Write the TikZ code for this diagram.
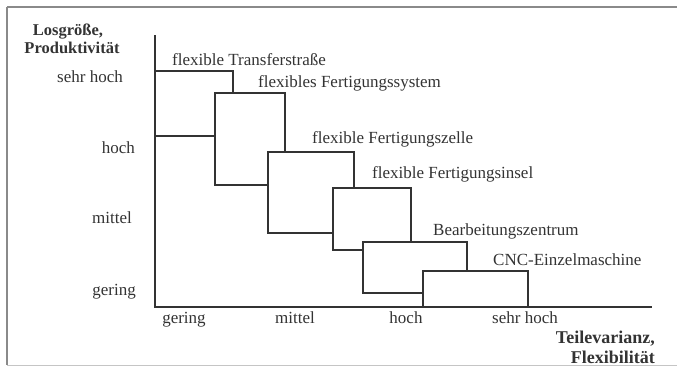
\documentclass[tikz,border=0pt]{standalone}
\usepackage{fontspec}
\setmainfont{Liberation Serif}
\usepackage{tikz}
\definecolor{inkgray}{HTML}{333333}
\definecolor{framegray}{HTML}{8A8A8A}
\tikzset{
  box/.style={draw=inkgray,fill=white,line width=1.4pt},
  axis/.style={draw=inkgray,line width=1.4pt},
  lbl/.style={inner sep=0pt,text=inkgray,font=\fontsize{17}{20}\selectfont},
  ttl/.style={lbl,font=\fontsize{16.5}{19.5}\selectfont\bfseries},
  bigttl/.style={lbl,font=\fontsize{18}{21}\selectfont\bfseries}
}

\begin{document}
\begin{tikzpicture}[x=1pt,y=-1pt]
                \useasboundingbox (0,0) rectangle (677,368);
                \draw[framegray,line width=1.2pt] (7,7) -- (677,7);
                \draw[framegray,line width=1.2pt] (7,7) -- (7,365);
                \draw[framegray!50,line width=0.8pt] (7,365) -- (677,365);
                \draw[box] (155,71) rectangle (233,136);
                \draw[box] (215,93) rectangle (285,185);
                \draw[box] (268,152) rectangle (354,233);
                \draw[box] (333,188) rectangle (411,250);
                \draw[box] (363,242) rectangle (467,293);
                \draw[box] (423,271) rectangle (528,307);
                \coordinate (origin) at (155,307);
                \coordinate (ytop) at (155,35);
                \coordinate (xend) at (652,307);
                \draw[axis] (ytop) -- (origin) -- (xend);
                \node[lbl,anchor=base west] (transfer) at (172,65) {flexible Transferstraße};
                \node[lbl,anchor=base west] (fsystem) at (258,87) {flexibles Fertigungssystem};
                \node[lbl,anchor=base west] (fzelle) at (312,143) {flexible Fertigungszelle};
                \node[lbl,anchor=base west] (finsel) at (372,178) {flexible Fertigungsinsel};
                \node[lbl,anchor=base west] (bazentrum) at (433,235) {Bearbeitungszentrum};
                \node[lbl,anchor=base west] (cnc) at (493,265) {CNC-Einzelmaschine};
                \node[lbl,anchor=base east] (ysehrhoch) at (123,82) {sehr hoch};
                \node[lbl,anchor=base east] (yhoch) at (135,153) {hoch};
                \node[lbl,anchor=base east] (ymittel) at (132,223) {mittel};
                \node[lbl,anchor=base east] (ygering) at (136,295) {gering};
                \node[lbl,anchor=base] (xgering) at (184,323) {gering};
                \node[lbl,anchor=base] (xmittel) at (295,323) {mittel};
                \node[lbl,anchor=base] (xhoch) at (406,323) {hoch};
                \node[lbl,anchor=base] (xsehrhoch) at (525,323) {sehr hoch};
                \node[ttl,anchor=base] (ytitle1) at (68,35) {Losgröße,};
                \node[ttl,anchor=base] (ytitle2) at (72,53) {Produktivität};
                \node[bigttl,anchor=base east] (xtitle1) at (655,343) {Teilevarianz,};
                \node[bigttl,anchor=base east] (xtitle2) at (655,363) {Flexibilität};
\end{tikzpicture}
\end{document}
